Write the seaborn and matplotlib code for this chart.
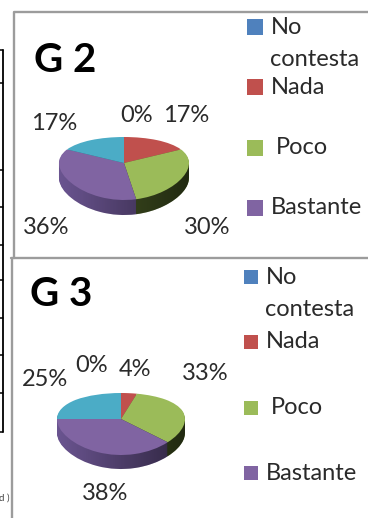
import matplotlib
matplotlib.use("Agg")
import matplotlib.pyplot as plt
from matplotlib.patches import Polygon
import numpy as np
import seaborn as sns

sns.set_theme(style="white")
plt.rcParams['font.family'] = ['Lato', 'DejaVu Sans']

W, H = 368, 518
categories = ["No contesta", "Nada", "Poco", "Bastante", "Mucho"]
g2_values = [0, 17, 30, 36, 17]
g3_values = [0, 4, 33, 38, 25]
top_colors = ["#4F81BD", "#C0504D", "#9BBB59", "#8064A2", "#4BACC6"]
side_colors = ["#2C4D75", "#772C2A", "#4A5C26", "#6A5490", "#276A7C"]
text_color = "#2A2A2A"

fig = plt.figure(figsize=(W / 100, H / 100), dpi=100, facecolor="white")
bg = fig.add_axes([0, 0, 1, 1], zorder=0)
bg.set_xlim(0, W)
bg.set_ylim(H, 0)
bg.axis("off")

# left table fragment
for y in [50, 83, 170, 207, 245, 280, 318, 355, 393, 432]:
    bg.plot([0, 3], [y, y], color="black", lw=1.1)
bg.plot([3, 3], [50, 432], color="black", lw=1.3)

# panel frames
bg.plot([13.5, 13.5, 368], [258, 12, 12], color="#9C9C9C", lw=1.7)
bg.plot([11, 368], [258, 258], color="#9C9C9C", lw=1.7)
bg.plot([11.5, 11.5], [259, 518], color="#9C9C9C", lw=1.7)

bg.text(-1, 498, "d )", fontsize=7, va="center", color="#444444")


def pie3d(values, cx, cy, rx, up, down, depth):
    # projective squeeze: the far half of the disc is flatter than the near half
    k = (down - up) / (down + up)
    a = up * (1 + k)

    def fwd(y):
        return a * y / (1 + k * y)

    def inv(v):
        return v / (a - k * v)

    def layer(colors, d, z):
        ax = fig.add_axes([(cx - rx) / W, 1 - (cy + down + d) / H,
                           2 * rx / W, (up + down) / H], zorder=z)
        ax.pie(values, colors=colors, startangle=90, counterclock=False,
               wedgeprops={"linewidth": 0})
        ax.set_aspect("auto")
        ax.set_xlim(-1, 1)
        ax.set_yscale("function", functions=(fwd, inv))
        ax.set_ylim(-1, 1)
        ax.axis("off")

    for d in range(depth, 0, -1):
        layer(side_colors, d, 1)

    # horizontal shading of the pie's side wall
    t = np.linspace(-1, 1, 120)
    low = cy + depth - fwd(-np.sqrt(1 - t ** 2))
    poly = np.column_stack([cx + rx * t, low])
    poly = np.vstack([poly, [[cx + rx, cy], [cx - rx, cy]]])
    shade = fig.add_axes([0, 0, 1, 1], zorder=2)
    shade.set_xlim(0, W)
    shade.set_ylim(H, 0)
    shade.axis("off")
    grad = np.zeros((2, 120, 4))
    grad[..., 3] = np.linspace(0, 0.55, 120)
    im = shade.imshow(grad, extent=(cx - rx, cx + rx, cy + down + depth, cy),
                      aspect="auto", interpolation="bilinear")
    im.set_clip_path(Polygon(poly, transform=shade.transData))
    shade.set_xlim(0, W)
    shade.set_ylim(H, 0)

    layer(top_colors, 0, 3)


def legend(x, ys, tx, size):
    bg.scatter([x] * 4, ys, marker="s", s=size, color=top_colors[:4], linewidths=0)
    kw = dict(fontsize=17, va="center", color=text_color)
    bg.text(tx, ys[0], categories[0].split()[0], **kw)
    bg.text(tx - 1, ys[0] + 32, categories[0].split()[1], **kw)
    bg.text(tx, ys[1], categories[1], **kw)
    bg.text(tx + 5, ys[2], categories[2], **kw)
    bg.text(tx, ys[3], categories[3], **kw)


def label(x, y, s):
    bg.text(x, y, s, fontsize=17, ha="center", va="center", color=text_color)


pie3d(g2_values, 124, 163, 65, 26, 37, 15)
pie3d(g3_values, 121, 419, 64, 26, 36, 14)

bg.text(34, 60, "G 2", fontsize=29, fontweight="bold", va="center", color="black")
bg.text(30, 295, "G 3", fontsize=29, fontweight="bold", va="center", color="black")

legend(255, [27, 87, 148, 208], 271, 125)
legend(251, [277, 342, 408, 473], 266, 100)

for x, y, s in [(137, 116, "0%"), (186, 116, "17%"), (54, 124, "17%"),
                (46, 227, "36%"), (207, 227, "30%"),
                (92, 365, "0%"), (135, 369, "4%"), (205, 373, "33%"),
                (45, 380, "25%"), (105, 494, "38%")]:
    label(x, y, s)

fig.savefig("out.png", dpi=100)
